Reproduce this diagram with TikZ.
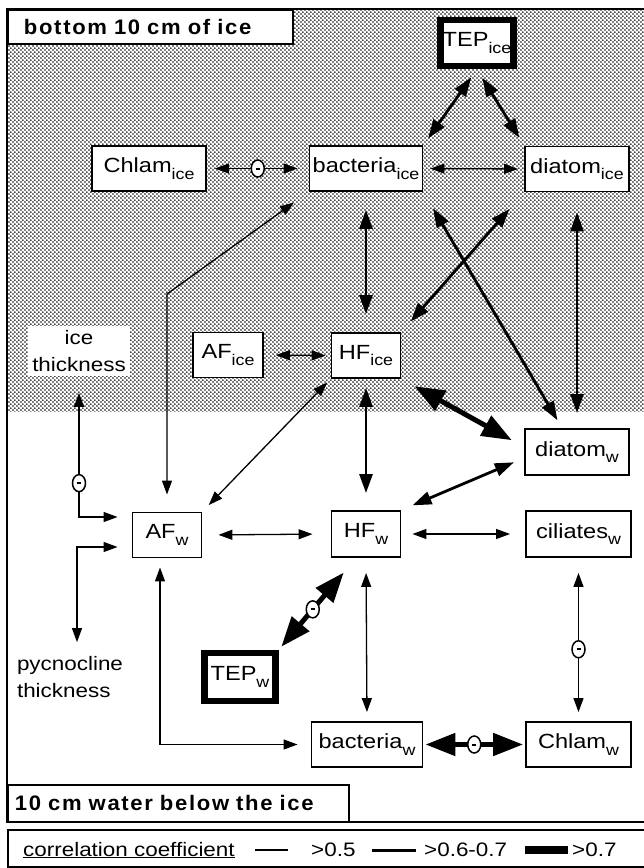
\documentclass[tikz,border=0pt]{standalone}
\usepackage{fontspec}
\setmainfont{Liberation Sans}[FakeStretch=1.15]
\newfontfamily\bandfont{Liberation Sans}[LetterSpace=8,WordSpace=1.7,FakeStretch=1.05]
\usetikzlibrary{arrows.meta,patterns.meta,shapes.geometric}
\newcommand{\idx}[1]{\raisebox{-6.5pt}{\fontsize{15.5}{15.5}\selectfont #1}}
\newcommand{\minusbar}{\rule{4pt}{2pt}}

\tikzdeclarepattern{
	name=stipple,
	type=uncolored,
	bottom left={(0pt,0pt)},
	top right={(4.4pt,4.4pt)},
	tile size={(4.4pt,4.4pt)},
	code={
		\fill (1.1pt,1.1pt) circle (1.05pt);
		\fill (3.3pt,3.3pt) circle (1.05pt);
	}
}

\begin{document}
\begin{tikzpicture}[x=1pt,y=-1pt,
	taxon/.style={draw,fill=white,line width=1.9pt,minimum height=45pt,inner sep=0pt,font=\fontsize{20.5}{22}\selectfont},
	tepbox/.style={taxon,line width=6.5pt,minimum height=46pt},
	factor/.style={inner sep=4pt,font=\fontsize{19.5}{27}\selectfont},
	band/.style={draw,fill=white,line width=1.9pt,anchor=north west,inner ysep=0pt,align=left,font=\bandfont\bfseries\fontsize{21}{23}\selectfont},
	minus/.style={ellipse,draw,fill=white,line width=1.5pt,minimum width=13pt,minimum height=17pt,inner sep=0pt},
	weak/.style={line width=1.3pt,{Triangle[length=14pt,width=10pt]}-{Triangle[length=14pt,width=10pt]}},
	moderate/.style={line width=2.8pt,{Triangle[length=19pt,width=13pt]}-{Triangle[length=19pt,width=13pt]}},
	strong/.style={line width=5pt,{Triangle[length=30pt,width=22pt]}-{Triangle[length=30pt,width=22pt]}},
	cut/.style={anchor=base west,inner sep=0pt,font=\fontsize{19.5}{21}\selectfont}]

	\useasboundingbox (0,0) rectangle (643,868);
	\fill[pattern=stipple] (7,9) rectangle (660,411);
	\draw[line width=1.9pt] (7,9) rectangle (660,822);
	\draw[line width=1.9pt] (8,830) rectangle (660,867);

	\node[band,minimum width=285pt,minimum height=34pt,inner xsep=16pt,text width=253pt] (iceband) at (7,9) {bottom 10 cm of ice};
	\node[band,minimum width=341pt,minimum height=37pt,inner xsep=7pt,text width=327pt] (waterband) at (7,784) {10 cm water below the ice};

	\node[tepbox,minimum width=73pt] (TEPice) at (477,43) {TEP\idx{ice}};
	\node[taxon,minimum width=114pt] (Chlamice) at (149,168.5) {Chlam\idx{ice}};
	\node[taxon,minimum width=113pt] (bactice) at (366,168.5) {bacteria\idx{ice}};
	\node[taxon,minimum width=104pt] (diatice) at (577,169) {diatom\idx{ice}};
	\node[taxon,minimum width=70pt] (AFice) at (228,355) {AF\idx{ice}};
	\node[taxon,minimum width=69pt] (HFice) at (366,355.5) {HF\idx{ice}};
	\node[taxon,minimum width=104pt,minimum height=46pt] (diatw) at (577,452) {diatom\idx{w}};
	\node[taxon,minimum width=69pt] (AFw) at (167,535) {AF\idx{w}};
	\node[taxon,minimum width=69pt,minimum height=46pt] (HFw) at (366,534) {HF\idx{w}};
	\node[taxon,minimum width=105pt,minimum height=46pt] (ciliw) at (578.5,534) {ciliates\idx{w}};
	\node[tepbox,minimum width=71pt,minimum height=48pt] (TEPw) at (240,677) {TEP\idx{w}};
	\node[taxon,minimum width=111pt] (bactw) at (367,744.5) {bacteria\idx{w}};
	\node[taxon,minimum width=105pt] (Chlamw) at (578.5,744.5) {Chlam\idx{w}};

	\node[factor,fill=white,align=center] (icethick) at (79,351) {ice\\thickness};
	\node[factor,align=left] (pycno) at (70,677) {pycnocline\\thickness};

	\coordinate (AFbend) at (167,294);

	\draw[weak,shorten <=8pt,shorten >=11pt] (Chlamice.east) -- node[minus]{\minusbar} (bactice.west);
	\draw[moderate,shorten <=10pt,shorten >=8pt] (TEPice.south) -- (bactice.north east);
	\draw[moderate,shorten <=10pt,shorten >=9pt] (TEPice.south) -- (diatice.north west);
	\draw[weak,shorten <=7pt,shorten >=6pt] (bactice.east) -- (diatice.west);
	\draw[moderate,shorten <=18pt,shorten >=18pt] (bactice.south) -- (HFice.north);
	\draw[moderate,shorten <=22pt,shorten >=14pt] (diatice.south west) -- (HFice.north east);
	\draw[moderate,shorten <=19pt,shorten >=9pt] (bactice.south east) -- ([xshift=-15pt]diatw.north);
	\draw[moderate,shorten <=20pt,shorten >=15pt] (diatice.south) -- (diatw.north);
	\draw[weak,shorten <=17pt,shorten >=18pt] (AFw.north) -- (AFbend) -- (bactice.south west);
	\draw[weak,shorten <=12pt,shorten >=5pt] (AFice.east) -- (HFice.west);
	\draw[strong,shorten <=15pt,shorten >=14pt] (HFice.south east) -- ([yshift=5pt]diatw.west);
	\draw[weak,shorten <=5pt,shorten >=9pt] (HFice.south west) -- (AFw.north east);
	\draw[moderate,shorten <=9pt,shorten >=17pt] (HFice.south) -- (HFw.north);
	\draw[moderate,shorten <=11pt,shorten >=12pt] ([yshift=-6pt]diatw.west) -- (HFw.north east);
	\draw[weak,shorten <=16pt,shorten >=18pt] (AFw.east) -- (HFw.west);
	\draw[weak,shorten <=11pt,shorten >=15pt] (HFw.east) -- (ciliw.west);
	\draw[weak,shorten <=17pt,shorten >=14pt] (icethick.south) |- node[pos=.38,minus]{\minusbar} ([yshift=18pt]AFw.west);
	\draw[weak,shorten <=10pt,shorten >=14pt] ([xshift=7pt]pycno.north) |- ([yshift=-12pt]AFw.west);
	\draw[strong,shorten <=19pt,shorten >=4pt] ([xshift=-10pt]HFw.south) -- node[pos=.56,minus]{\minusbar} (TEPw.north east);
	\draw[weak,shorten <=15pt,shorten >=9pt] (HFw.south) -- (bactw.north);
	\draw[weak,shorten <=15pt,shorten >=9pt] (ciliw.south) -- node[pos=.56,minus]{\minusbar} (Chlamw.north);
	\draw[weak,shorten <=9pt,shorten >=13pt] ([xshift=-7pt]AFw.south) |- (bactw.west);
	\draw[strong,shorten <=2pt,shorten >=2pt] (bactw.east) -- node[minus]{\minusbar} (Chlamw.west);

	\node[cut] (corrtitle) at (23,856) {\underline{correlation coefficient}};
	\draw[line width=1.3pt] (255,850) -- (288,850);
	\node[cut] (cutlow) at (311,856) {>0.5};
	\draw[line width=3pt] (372,850) -- (416,850);
	\node[cut] (cutmid) at (424,856) {>0.6-0.7};
	\draw[line width=8pt] (525,850) -- (568,850);
	\node[cut] (cuthigh) at (572,856) {>0.7};

\end{tikzpicture}
\end{document}
